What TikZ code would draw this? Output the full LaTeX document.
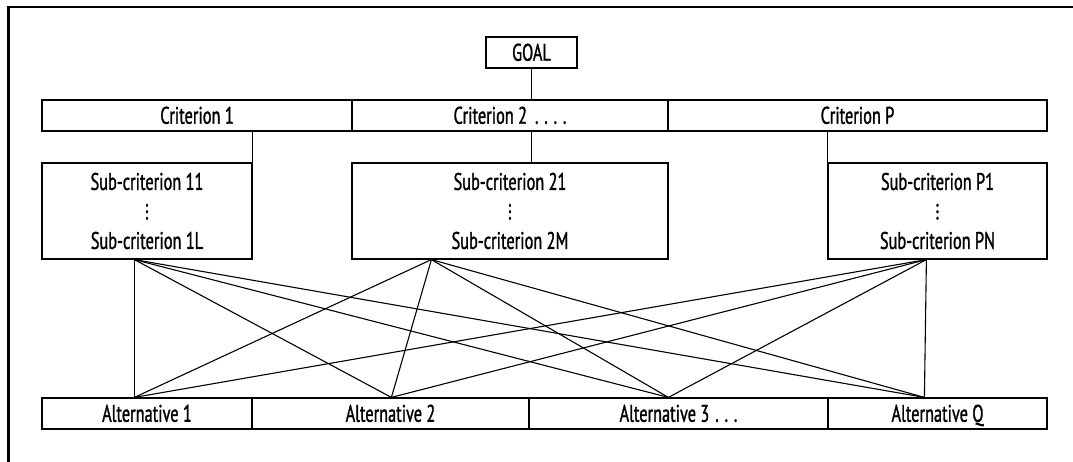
\documentclass[tikz,border=0pt]{standalone}
\usepackage{fontspec}
\setmainfont{PT Sans}[FakeStretch=0.68,FakeBold=1.2]
% three stacked dots for the elided sub-criteria
\newcommand\vdts{\vbox{\baselineskip6.5pt\lineskiplimit0pt\hbox{.}\hbox{.}\hbox{.}}}
\begin{document}
\begin{tikzpicture}[x=1pt,y=-1pt,
  cell/.style={draw,line width=1.2pt,inner sep=0pt,minimum height=31pt,
    text height=16.5pt,text depth=0pt,font=\fontsize{24}{26}\selectfont},
  subbox/.style={draw,line width=1.2pt,inner sep=0pt,minimum height=96pt,
    align=center,font=\fontsize{24}{29.5}\selectfont},
  link/.style={line width=1.1pt},
  frame/.style={line width=2.5pt}]
\useasboundingbox (0,0) rectangle (1073,462);
\draw[frame] (1073,7) -- (8.5,7) -- (8.5,462);

% goal and criteria
\node[cell,minimum width=91pt]  (goal) at (531.5,52.5) {GOAL};
\node[cell,minimum width=310pt] (c1) at (197,115.5)   {Criterion 1};
\node[cell,minimum width=316pt] (c2) at (510,115.5)   {Criterion 2\hspace{8pt}. . . .};
\node[cell,minimum width=379pt] (cP) at (857.5,115.5) {Criterion P};

% sub-criteria
\node[subbox,minimum width=210pt] (s1) at (147,211)   {Sub-criterion 11\\\vdts\\Sub-criterion 1L};
\node[subbox,minimum width=316pt] (s2) at (510,211)   {Sub-criterion 21\\\vdts\\Sub-criterion 2M};
\node[subbox,minimum width=219pt] (sP) at (937.5,211) {Sub-criterion P1\\\vdts\\Sub-criterion PN};

% alternatives
\node[cell,minimum width=210pt] (a1) at (147,413.5)   {Alternative 1};
\node[cell,minimum width=277pt] (a2) at (390.5,413.5) {Alternative 2};
\node[cell,minimum width=299pt] (a3) at (678.5,413.5) {Alternative 3\hspace{6pt}. . .};
\node[cell,minimum width=219pt] (aQ) at (937.5,413.5) {Alternative Q};

% hierarchy links
\draw[link] (goal.south) -- (goal.south |- c2.north);
\draw[link] (s1.north east |- c1.south) -- (s1.north east);
\draw[link] (goal.south |- c2.south) -- (goal.south |- s2.north);
\draw[link] (sP.north west |- cP.south) -- (sP.north west);

% every sub-criterion group to every alternative
\path (s1.south west) ++(93,0) coordinate (u1);
\path (s2.south west) ++(80,0) coordinate (u2);
\path (sP.south west) ++(99,0) coordinate (u3);
\path (a1.north west) ++(93,0) coordinate (v1);
\path (a2.north west) ++(140,0) coordinate (v2);
\path (a3.north west) ++(140,0) coordinate (v3);
\path (aQ.north west) ++(97,0) coordinate (v4);
\foreach \u in {u1,u2,u3}
  \foreach \v in {v1,v2,v3,v4}
    \draw[link] (\u) -- (\v);
\end{tikzpicture}
\end{document}
